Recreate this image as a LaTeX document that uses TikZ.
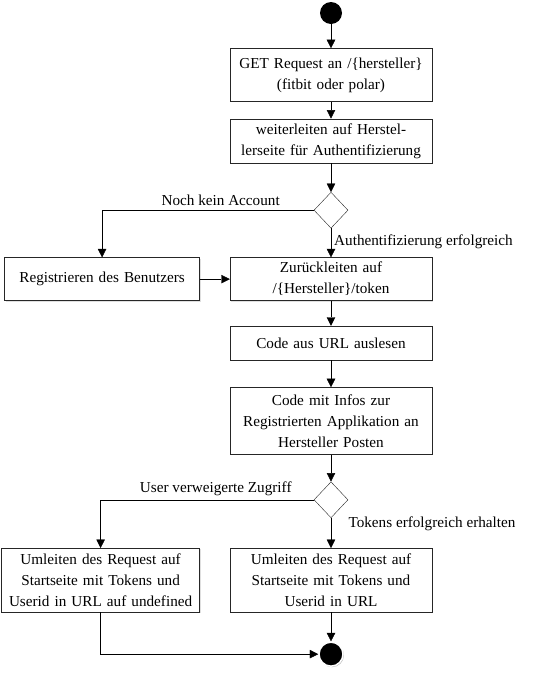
\documentclass[tikz,border=0pt]{standalone}
\usepackage{fontspec}
\setmainfont{Liberation Serif}
\usetikzlibrary{shapes.geometric, arrows.meta, positioning, shadows}

\begin{document}
\begin{tikzpicture}[
	x=1pt, y=1pt,
	font=\fontsize{15.2}{21}\selectfont,
	box/.style={rectangle, draw=black!85, fill=white,
		drop shadow={opacity=0.25, shadow xshift=1pt, shadow yshift=-1pt},
		minimum width=202pt, minimum height=44pt,
		text width=196pt, align=center, inner xsep=3pt, inner ysep=2pt},
	decision/.style={diamond, draw=black!85, fill=white,
		minimum width=34pt, minimum height=36pt, inner sep=0pt},
	startnode/.style={circle, fill=black, minimum size=22pt, inner sep=0pt},
	endnode/.style={circle, fill=black, draw=white, line width=1.5pt,
		minimum size=24pt, inner sep=0pt,
		drop shadow={opacity=0.5, shadow xshift=1pt, shadow yshift=-1pt}},
	arrow/.style={-{Triangle[length=8.5pt, width=8.5pt]}, thin, black}
	]
	\useasboundingbox (0,0) rectangle (535,-678);

	\node[startnode] (start) at (331,-13) {};
	\node[box, minimum height=53pt, below=24pt of start] (get)
	{GET Request an /\{hersteller\}\\ (fitbit oder polar)};
	\node[box, below=17pt of get] (weiter)
	{weiterleiten auf Herstel-\\ lerseite für Authentifizierung};
	\node[decision, below=29pt of weiter] (acc) {};
	\node[box, minimum height=43pt, below=29pt of acc] (zurueck)
	{Zurückleiten auf\\ /\{Hersteller\}/token};
	\node[box, minimum width=195pt, text width=189pt, minimum height=43pt,
		left=30pt of zurueck] (reg) {Registrieren des Benutzers};
	\node[box, minimum height=34pt, below=25pt of zurueck] (code)
	{Code aus URL auslesen};
	\node[box, minimum height=67pt, below=27pt of code] (post)
	{Code mit Infos zur\\ Registrierten Applikation an\\ Hersteller Posten};
	\node[decision, below=27pt of post] (tok) {};
	\node[box, minimum height=64pt, below=30pt of tok] (ok)
	{Umleiten des Request auf\\ Startseite mit Tokens und\\ Userid in URL};
	\node[box, minimum width=198pt, text width=192pt, minimum height=64pt,
		left=30pt of ok] (undef)
	{Umleiten des Request auf\\ Startseite mit Tokens und\\ Userid in URL auf undefined};
	\node[endnode, below=29pt of ok] (end) {};

	\draw[arrow] (start) -- (get);
	\draw[arrow] (get) -- (weiter);
	\draw[arrow] (weiter) -- (acc);
	\draw[arrow] (acc.west) -| node[pos=0.22, above, inner sep=4pt] {Noch kein Account} (reg.north);
	\draw[arrow] (acc.south) -- node[pos=0.45, right, inner sep=3pt] {Authentifizierung erfolgreich} (zurueck.north);
	\draw[arrow] (reg) -- (zurueck);
	\draw[arrow] (zurueck) -- (code);
	\draw[arrow] (code) -- (post);
	\draw[arrow] (post) -- (tok);
	\draw[arrow] (tok.west) -| node[pos=0.23, above, inner sep=4pt] {User verweigerte Zugriff} (undef.north);
	\draw[arrow] (tok.south) -- node[pos=0.2, right, xshift=14pt] {Tokens erfolgreich erhalten} (ok.north);
	\draw[arrow] (ok) -- (end);
	\draw[arrow] (undef.south) |- (end.west);
\end{tikzpicture}
\end{document}
